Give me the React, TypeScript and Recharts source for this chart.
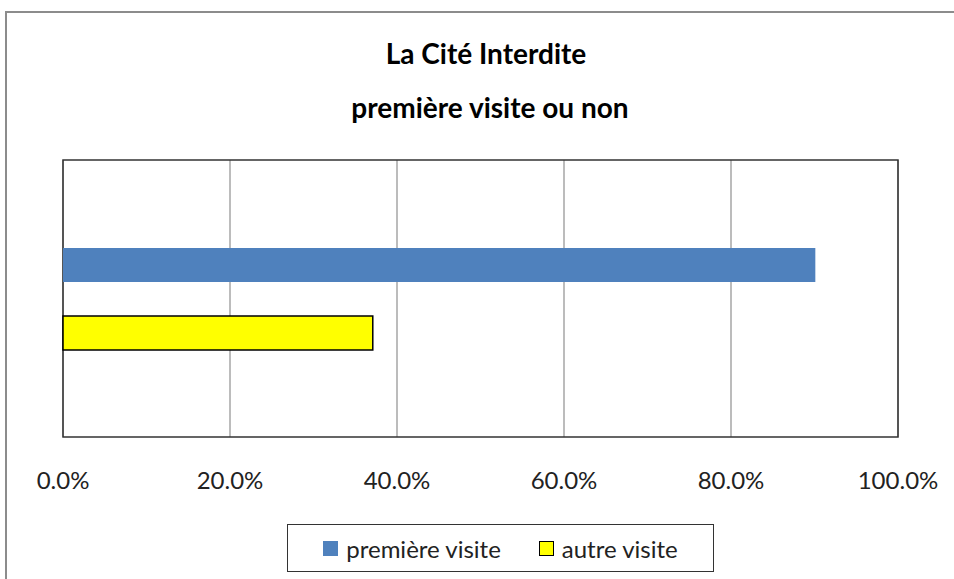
import { BarChart, Bar, XAxis, YAxis, CartesianGrid, ReferenceArea, Legend } from 'recharts';

const categories = ['La Cité Interdite'];
const premiereVisite = [0.901];
const autreVisite = [0.371];
const xTicks = [0, 0.2, 0.4, 0.6, 0.8, 1];

const seriesNames = { premiere: 'première visite', autre: 'autre visite' };

const data = categories.map((name, i) => ({
  name,
  premiere: premiereVisite[i],
  autre: autreVisite[i],
}));

const FONT = 'Lato, "Open Sans", sans-serif';

function LegendBox() {
  const item = (color: string, border: string, label: string) => (
    <div style={{ display: 'flex', alignItems: 'center', gap: 8 }}>
      <span
        style={{
          display: 'inline-block',
          width: 15,
          height: 15,
          background: color,
          border,
          boxSizing: 'border-box',
        }}
      />
      <span>{label}</span>
    </div>
  );
  return (
    <div
      style={{
        boxSizing: 'border-box',
        height: 48,
        border: '1.5px solid #333',
        display: 'flex',
        alignItems: 'center',
        justifyContent: 'center',
        gap: 38,
        fontFamily: FONT,
        fontSize: 24,
        color: '#222',
        background: '#fff',
      }}
    >
      {item('#4f81bd', 'none', seriesNames.premiere)}
      {item('#ffff00', '1.5px solid #000', seriesNames.autre)}
    </div>
  );
}

export default function App() {
  return (
    <div
      style={{
        position: 'absolute',
        left: 0,
        top: 0,
        width: 954,
        height: 579,
        overflow: 'hidden',
        background: '#fff',
        fontFamily: FONT,
      }}
    >
      <div
        style={{
          position: 'absolute',
          left: 5,
          top: 11,
          width: 1200,
          height: 1200,
          border: '2px solid #8c8c8c',
        }}
      />
      <div
        style={{
          position: 'absolute',
          left: 0,
          width: 972,
          top: 39,
          textAlign: 'center',
          fontSize: 28,
          lineHeight: '28px',
          fontWeight: 700,
          color: '#000',
        }}
      >
        La Cité Interdite
      </div>
      <div
        style={{
          position: 'absolute',
          left: 0,
          width: 980,
          top: 93,
          textAlign: 'center',
          fontSize: 28,
          lineHeight: '28px',
          fontWeight: 700,
          color: '#000',
        }}
      >
        première visite ou non
      </div>
      <BarChart
        width={954}
        height={579}
        data={data}
        layout="vertical"
        margin={{ top: 160, right: 56, left: 63, bottom: 7 }}
        barSize={34}
        barGap={34}
      >
        <CartesianGrid horizontal={false} stroke="#a6a6a6" strokeWidth={1.5} />
        <XAxis
          type="number"
          domain={[0, 1]}
          ticks={xTicks}
          interval={0}
          tickFormatter={(v: number) => `${(v * 100).toFixed(1)}%`}
          tickLine={false}
          axisLine={false}
          tickSize={0}
          tickMargin={35}
          height={87}
          tick={{ fill: '#222', fontSize: 24, fontFamily: FONT }}
        />
        <YAxis type="category" dataKey="name" hide />
        <ReferenceArea x1={0} x2={1} fill="none" stroke="#333" strokeWidth={1.5} ifOverflow="visible" />
        <Bar dataKey="premiere" name={seriesNames.premiere} fill="#4f81bd" isAnimationActive={false} />
        <Bar
          dataKey="autre"
          name={seriesNames.autre}
          fill="#ffff00"
          stroke="#000"
          strokeWidth={1.5}
          isAnimationActive={false}
        />
        <Legend
          verticalAlign="bottom"
          content={() => <LegendBox />}
          wrapperStyle={{ left: 287, width: 427, bottom: 7 }}
        />
      </BarChart>
    </div>
  );
}
